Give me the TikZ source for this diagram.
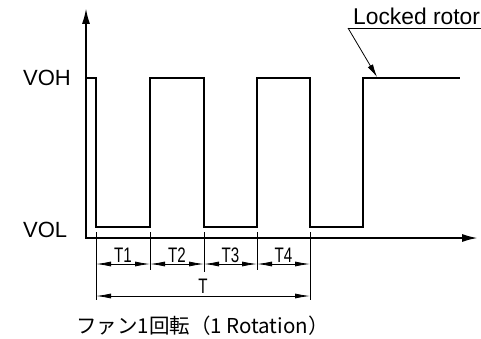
\documentclass[tikz,border=0pt]{standalone}
\usepackage{fontspec}
\setmainfont{Liberation Sans}
\newfontfamily\jpfont{Noto Sans CJK JP}
\usetikzlibrary{arrows.meta}
\begin{document}
\begin{tikzpicture}[x=1pt,y=-1pt,
  sig/.style={line width=2.6pt, line join=miter},
  axisline/.style={line width=2.6pt, line join=miter,
    {Latex[length=17pt,width=8pt]}-{Latex[length=17pt,width=8pt]}},
  thinline/.style={line width=0.8pt},
  dimline/.style={line width=0.8pt,
    {Latex[length=15pt,width=5pt]}-{Latex[length=15pt,width=5pt]}},
  leader/.style={line width=0.8pt, -{Latex[length=13pt,width=6pt]}},
  lbl/.style={inner sep=0pt, font=\fontsize{22}{24}\selectfont},
  tlbl/.style={inner sep=0pt, anchor=base, font=\fontsize{21}{23}\selectfont}]
\useasboundingbox (0,0) rectangle (481,339);
% axes
\coordinate (O) at (86,238);
\coordinate (ytip) at (86,7);
\coordinate (xtip) at (479,238);
\draw[axisline] (ytip) -- (O) -- (xtip);
% signal
\draw[sig] (86,78) -- (96,78) -- (96,227) -- (150,227) -- (150,78) -- (204,78)
  -- (204,227) -- (257,227) -- (257,78) -- (310,78) -- (310,227) -- (363,227)
  -- (363,78) -- (460,78);
% level labels
\node[lbl, anchor=west] (voh) at (23,78) {VOH};
\node[lbl, anchor=west] (vol) at (23,230) {VOL};
% locked rotor
\node[lbl, anchor=base west, font=\fontsize{22.8}{24}\selectfont] (lr) at (353,25) {Locked rotor};
\coordinate (lr0) at (348,28);
\coordinate (lr1) at (481,28);
\coordinate (lrtip) at (377,77);
\draw[thinline] (lr0) -- (lr1);
\draw[leader] (lr0) -- (lrtip);
% extension lines
\foreach \n/\x/\yb in {a/96/300, b/150/270, c/204/272, d/257/270, e/310/300}{
  \coordinate (\n top) at (\x,232);
  \coordinate (\n bot) at (\x,\yb);
  \coordinate (\n dim) at (\x,264);
  \draw[thinline] (\n top) -- (\n bot);
}
\coordinate (aT) at (96,296);
\coordinate (eT) at (310,296);
% dimension lines
\draw[dimline] (adim) -- (bdim);
\draw[dimline] (bdim) -- (cdim);
\draw[dimline] (cdim) -- (ddim);
\draw[dimline] (ddim) -- (edim);
\draw[dimline] (aT) -- (eT);
\node[tlbl] (t1) at (123,262) {\scalebox{0.72}[1]{T1}};
\node[tlbl] (t2) at (177,262) {\scalebox{0.72}[1]{T2}};
\node[tlbl] (t3) at (230.5,262) {\scalebox{0.72}[1]{T3}};
\node[tlbl] (t4) at (283.5,262) {\scalebox{0.72}[1]{T4}};
\node[tlbl] (tt) at (203,293) {\scalebox{0.72}[1]{T}};
% caption
\node[inner sep=0pt, anchor=base west, font=\jpfont\fontsize{20.5}{22}\selectfont] (cap) at (76,333) {ファン1回転（1 Rotation）};
\end{tikzpicture}
\end{document}
